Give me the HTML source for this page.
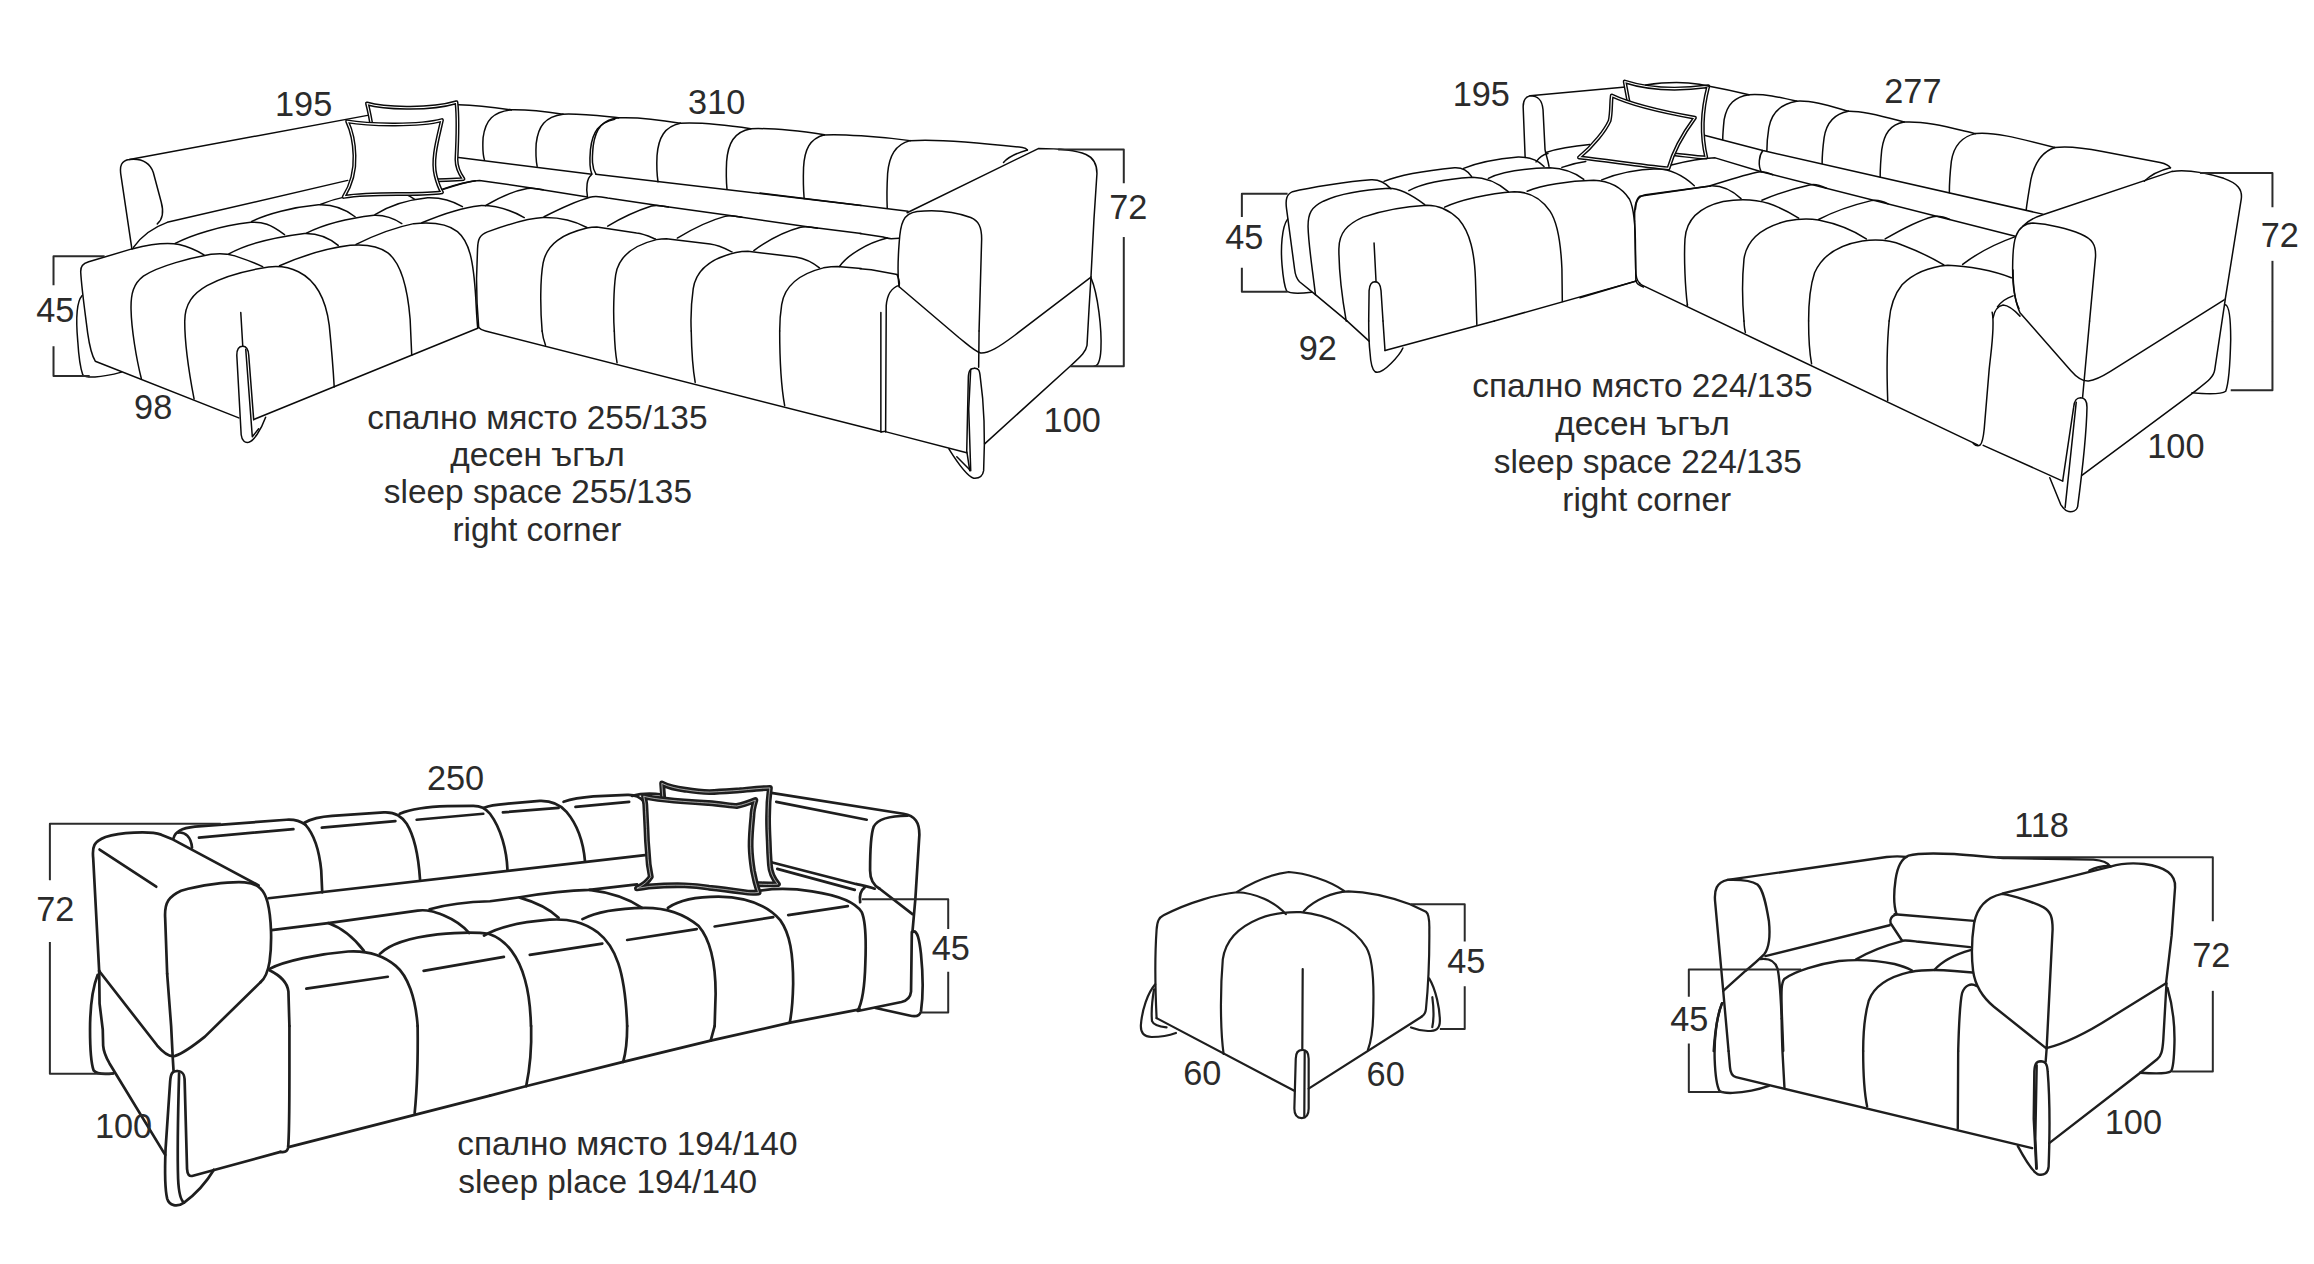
<!DOCTYPE html><html><head><meta charset="utf-8"><title>Sofa dimensions</title><style>
html,body{margin:0;padding:0;background:#fff}svg{display:block}
.l{stroke-width:1.5}.l{stroke:#0a0a0a}.l path{fill:none;stroke-linecap:round;stroke-linejoin:round;vector-effect:non-scaling-stroke}
.l path.f{fill:#fff}
.l path.d{stroke:#2b2b2b;stroke-width:2px;stroke-linecap:butt;stroke-linejoin:round}
.l path.p1{fill:#fff;stroke-width:4}.l path.p2{stroke:#fff;stroke-width:1.1}
text{font-family:"Liberation Sans",sans-serif;fill:#2b2b2b}
</style></head><body>
<svg width="2314" height="1264" viewBox="0 0 2314 1264">
<rect width="2314" height="1264" fill="#fff"/>
<g class="l" transform="translate(40 80) scale(0.198790)">
<path d="M462 848 L408 485 C398 430 410 405 450 400 L1648 178"/>
<path d="M450 400 C515 393 552 415 570 465 L610 615 C625 670 612 705 590 724"/>
<path d="M470 842 C510 785 560 745 640 716 L1548 505"/>
<path d="M462 850 C560 825 640 815 700 828 C750 840 795 862 825 880"/>
<path d="M680 822 C760 780 900 735 1060 716 C1120 712 1160 725 1230 778"/>
<path d="M950 875 C1020 835 1150 795 1330 772 C1400 770 1450 790 1500 832"/>
<path d="M1065 712 C1140 675 1270 640 1400 628 C1470 625 1530 645 1585 688"/>
<path d="M1340 770 C1420 730 1550 695 1680 680 C1740 678 1780 695 1820 722"/>
<path d="M1410 626 C1450 610 1500 595 1535 588"/>
<path d="M1685 677 C1760 630 1850 602 1950 592 C2020 590 2080 610 2125 637"/>
<path d="M1835 572 C1855 580 1870 590 1885 600"/>
<path d="M2030 550 C2090 530 2140 515 2190 507"/>
<path class="p1" d="M1645 118 C1720 140 1950 155 2095 112 C2105 200 2100 300 2095 400 C2095 440 2110 470 2130 498 C2080 505 2000 500 1900 510 L1700 510 C1690 400 1680 250 1645 118 Z"/><path class="p2" d="M1645 118 C1720 140 1950 155 2095 112 C2105 200 2100 300 2095 400 C2095 440 2110 470 2130 498 C2080 505 2000 500 1900 510 L1700 510 C1690 400 1680 250 1645 118 Z"/>
<path class="p1" d="M1545 208 C1640 225 1900 235 2022 202 C2000 300 1970 400 1990 480 C2000 520 2010 545 2022 565 C1900 585 1700 560 1528 588 C1570 520 1585 450 1582 380 C1580 300 1565 250 1545 208 Z"/><path class="p2" d="M1545 208 C1640 225 1900 235 2022 202 C2000 300 1970 400 1990 480 C2000 520 2010 545 2022 565 C1900 585 1700 560 1528 588 C1570 520 1585 450 1582 380 C1580 300 1565 250 1545 208 Z"/>
</g>
<g class="l" transform="translate(40 230) scale(0.198790)">
<path d="M462 95 L245 160 C215 170 203 182 205 215 C210 300 225 400 240 520 C250 590 260 630 278 660 L1000 945"/>
<path d="M1075 953 L2202 494"/>
<path d="M510 748 C485 650 460 500 458 400 C456 320 470 270 520 232 C600 180 760 140 860 122 C900 117 940 117 980 130 C1040 150 1090 170 1120 184"/>
<path d="M775 850 C750 720 728 560 728 460 C728 370 770 320 840 280 C930 230 1060 200 1150 186 C1200 180 1250 185 1300 210 C1400 260 1440 360 1455 480 C1465 580 1475 700 1480 790"/>
<path d="M1205 180 C1300 138 1420 95 1560 77 C1640 70 1700 78 1750 115 C1820 170 1850 300 1862 450 L1870 630"/>
<path d="M1590 72 C1680 28 1780 -12 1880 -32 C1980 -42 2050 -32 2100 8 C2160 58 2180 150 2192 340 C2196 420 2198 460 2202 492"/>
<path d="M212 330 C185 360 180 450 190 560 C195 640 205 700 215 728 C230 745 300 745 410 715"/>
<path d="M1010 415 L1020 585"/>
<path d="M1020 585 C1000 585 990 600 990 630 L1012 1030 C1016 1060 1030 1072 1050 1068 C1075 1060 1110 1010 1135 942"/>
<path d="M1020 585 C1040 585 1048 600 1050 630 L1075 955"/>
<path d="M1035 600 L1068 1040 L1100 1000"/>
<path class="d" d="M325 132 L68 132 L68 278"/>
<path class="d" d="M68 585 L68 735 L250 735"/>
</g>
<g class="l" transform="translate(400 80) scale(0.198790)">
<path d="M295 125 C380 128 470 138 560 150"/>
<path d="M560 150 C650 148 740 160 820 172"/>
<path d="M820 172 C910 168 1000 180 1100 190"/>
<path d="M1100 190 C1200 186 1310 200 1410 218"/>
<path d="M1410 218 C1520 212 1650 228 1765 245"/>
<path d="M1765 245 C1880 240 2020 258 2135 275"/>
<path d="M560 150 C470 160 430 200 418 290 C415 340 418 380 425 403"/>
<path d="M820 172 C730 185 695 230 685 320 C682 370 685 410 690 435"/>
<path d="M1100 190 C1020 200 985 240 972 330 C965 400 965 440 985 472"/>
<path d="M1080 198 C1000 215 968 260 958 350 C952 420 955 450 965 473"/>
<path d="M1410 218 C1330 235 1300 290 1293 380 C1290 440 1293 480 1298 512"/>
<path d="M1765 245 C1680 260 1650 320 1643 410 C1640 470 1642 520 1645 550"/>
<path d="M2135 275 C2060 295 2035 350 2030 440 C2028 500 2030 560 2033 596"/>
<path d="M295 390 L965 474"/>
<path d="M985 474 L2320 631"/>
<path d="M962 478 C940 492 935 545 943 588"/>
<path d="M210 550 C290 522 350 507 400 505 L660 543 L943 588"/>
<path d="M430 632 C500 590 580 557 640 546 C665 541 690 546 720 552.5"/>
<path d="M725 688 C800 650 880 612 955 590 C985 581 1010 586 1045 594 L1290 630 L1660 682 L2040 737 L2320 772"/>
<path d="M1045 735 C1120 690 1200 655 1265 634 C1290 626 1320 632 1350 638.7"/>
<path d="M1395 795 C1470 750 1560 706 1635 686 C1660 678 1690 684 1720 690.7"/>
<path d="M1780 858 C1860 800 1950 758 2015 741 C2040 733 2070 739 2100 745.7"/>
<path d="M110 718 C200 680 320 640 400 632 C480 630 560 655 625 692"/>
<path d="M396 1245 C390 1180 385 1100 385 1000 L390 850 C392 800 400 780 440 764 C520 735 640 695 720 692 C800 690 880 710 940 742"/>
<path d="M715 1263 C705 1150 705 1000 720 920 C740 820 820 775 940 745 C960 741 975 740 990 740 L1190 770 C1230 775 1260 790 1285 800"/>
<path d="M1078 1263 C1072 1180 1075 1050 1085 980 C1100 880 1180 830 1290 803 C1310 799 1325 798 1340 798 L1560 825 C1610 832 1640 850 1670 865"/>
<path d="M1465 1263 C1462 1200 1465 1120 1475 1050 C1490 950 1570 895 1690 868 C1710 864 1730 862 1750 862 L1990 890 C2050 900 2080 920 2110 945"/>
<path d="M1910 1263 C1910 1230 1912 1180 1920 1130 C1935 1030 2010 975 2130 945 C2160 940 2180 938 2200 938 L2320 948"/>
</g>
<g class="l" transform="translate(400 230) scale(0.198790)">
<path d="M396 490 C405 500 415 505 430 508 L2421 1015"/>
<path d="M715 508 C718 540 725 560 732 580"/>
<path d="M1078 508 C1080 580 1085 630 1092 668"/>
<path d="M1465 508 C1467 620 1475 710 1485 767"/>
<path d="M1910 508 C1910 650 1920 800 1935 884"/>
</g>
<g class="l" transform="translate(760 80) scale(0.198790)">
<path d="M320 277 C400 270 600 285 755 305"/>
<path d="M755 305 C900 295 1150 320 1320 340 C1335 343 1342 348 1345 352"/>
<path d="M1345 352 C1300 365 1250 385 1225 415"/>
<path d="M755 305 C680 325 650 380 642 470 C638 540 638 600 640 644"/>
<path d="M0 568 L745 660"/>
<path d="M503 772 L620 790 C640 795 650 798 660 798 L700 796"/>
<path d="M400 938 C440 880 540 820 640 795"/>
<path d="M503 950 L560 955 L690 978"/>
<path d="M700 1040 C694 1000 694 900 700 820 C706 720 720 672 790 662 C900 650 1000 670 1060 692 C1100 708 1115 740 1115 800 L1102 1263"/>
<path d="M740 668 L1400 345 C1500 345 1580 350 1640 375 C1685 395 1695 430 1695 470 L1680 700 L1665 990"/>
<path class="d" d="M1500 350 L1830 350 L1830 520"/>
<path class="d" d="M1830 790 L1830 1263"/>
</g>
<g class="l" transform="translate(760 250) scale(0.198790)">
<path d="M690 125 C695 140 705 160 700 178 C660 190 640 220 635 280 L632 915"/>
<path d="M608 315 L608 915 L632 912"/>
<path d="M700 185 L1000 440 C1050 480 1080 510 1110 518 C1150 520 1200 490 1280 430 L1660 140"/>
<path d="M1102 408 L1100 590"/>
<path d="M635 915 L1040 1020"/>
<path d="M1665 135 L1655 300 L1645 480 C1640 510 1620 530 1560 585 L1130 975"/>
<path d="M1665 140 C1700 220 1720 400 1715 500 C1712 560 1700 585 1680 585"/>
<path class="d" d="M1830 408 L1830 585 L1560 585"/>
<path d="M1080 595 C1058 595 1050 605 1048 640 L1040 1010 L1055 1110"/>
<path d="M1080 595 C1100 595 1105 605 1108 640 C1125 760 1135 900 1125 1110 C1120 1140 1100 1150 1075 1148 C1050 1140 1000 1080 950 1000"/>
<path d="M1060 600 L1050 800 L1060 1110 L990 1040"/>
</g>
<g class="l" transform="translate(1220 70) scale(0.198790)">
<path d="M1535 440 L1525 185 C1525 150 1535 135 1560 130 L2040 85"/>
<path d="M1560 130 C1600 130 1620 150 1625 200 L1635 400 C1640 430 1650 450 1655 485"/>
<path d="M1640 415 C1700 395 1780 382 1860 375"/>
<path d="M1590 462 C1605 440 1625 425 1650 420"/>
<path d="M640 1263 L480 1130 L400 1065 C385 1050 378 1030 375 1000 L335 700 C328 650 335 625 365 612 C450 590 650 560 760 552 C800 550 830 565 860 597"/>
<path d="M825 560 C900 530 1050 505 1180 492 C1220 490 1245 505 1265 535"/>
<path d="M1225 495 C1300 465 1420 445 1500 438 C1560 437 1600 455 1630 485"/>
<path d="M480 1130 C465 1000 445 880 443 790 C442 720 460 690 520 660 C620 615 760 600 850 595 C900 595 960 625 1030 677"/>
<path d="M950 607 C1020 570 1150 548 1270 540 C1340 540 1400 570 1450 612"/>
<path d="M1350 545 C1420 510 1550 495 1660 492 C1730 495 1790 520 1830 550"/>
<path d="M635 1263 C615 1150 598 1000 598 900 C598 820 640 775 720 740 C820 705 950 685 1040 680 C1100 680 1150 700 1200 750 C1260 820 1280 920 1285 1050 L1292 1280"/>
<path d="M1130 690 C1200 655 1350 620 1480 612 C1560 612 1620 650 1660 710 C1700 770 1715 880 1720 1000 L1722 1165"/>
<path d="M1545 610 C1620 580 1750 558 1880 555 C1960 558 2020 590 2060 650 C2085 700 2090 800 2090 900 L2092 1060"/>
<path d="M1720 490 C1760 475 1800 465 1840 460"/>
<path d="M1920 553 C2000 520 2100 500 2200 497 C2280 500 2340 540 2386 582"/>
<path d="M2466 583 L2140 628 C2105 636 2092 655 2090 700"/>
<path d="M2092 1060 C2095 1075 2110 1085 2130 1092"/>
<path d="M2092 1062 L1380 1263"/>
<path d="M775 870 L785 1065"/>
<path d="M780 1065 C760 1065 752 1080 750 1110 L748 1263"/>
<path d="M780 1065 C800 1065 808 1080 810 1110 L820 1263"/>
<path d="M340 750 C310 790 305 900 312 980 C318 1050 325 1090 335 1112 C350 1125 400 1125 460 1118"/>
<path class="d" d="M340 622 L110 622 L110 740"/>
<path class="d" d="M110 995 L110 1115 L340 1115"/>
<path class="p1" d="M2036 58 C2150 95 2280 105 2456 82 C2425 200 2420 330 2446 440 C2400 440 2340 430 2291 425 L2100 400 Z"/><path class="p2" d="M2036 58 C2150 95 2280 105 2456 82 C2425 200 2420 330 2446 440 C2400 440 2340 430 2291 425 L2100 400 Z"/>
<path class="p1" d="M1971 128 C2080 180 2250 215 2389 240 C2330 320 2280 410 2256 495 C2100 480 1950 455 1806 440 C1880 380 1940 300 1960 255 C1970 210 1965 170 1971 128 Z"/><path class="p2" d="M1971 128 C2080 180 2250 215 2389 240 C2330 320 2280 410 2256 495 C2100 480 1950 455 1806 440 C1880 380 1940 300 1960 255 C1970 210 1965 170 1971 128 Z"/>
</g>
<g class="l" transform="translate(1220 270) scale(0.198790)">
<path d="M640 257 L750 358"/>
<path d="M748 257 C748 300 750 380 755 420 C758 470 765 500 780 512 C800 522 830 500 860 470 C890 440 910 415 920 392"/>
<path d="M820 257 L830 405"/>
<path d="M830 405 L1380 257"/>
</g>
<g class="l" transform="translate(1580 70) scale(0.198790)">
<path d="M330 75 C420 62 520 58 600 72 L650 82"/>
<path d="M650 82 C720 95 790 110 850 124"/>
<path d="M850 124 C930 118 1010 138 1090 157"/>
<path d="M1090 157 C1170 152 1270 185 1350 207"/>
<path d="M1350 207 C1440 205 1550 240 1630 262"/>
<path d="M1630 262 C1740 255 1880 295 1990 320"/>
<path d="M850 124 C780 135 740 170 725 250 C720 300 718 330 718 350"/>
<path d="M1090 157 C1010 170 965 210 950 290 C942 340 940 380 940 408"/>
<path d="M1350 207 C1280 220 1240 260 1228 340 C1220 400 1218 440 1218 470"/>
<path d="M1630 262 C1560 275 1530 320 1518 400 C1512 460 1510 510 1510 538"/>
<path d="M1990 320 C1920 335 1880 380 1868 460 C1860 530 1858 580 1858 618"/>
<path d="M630 330 L920 405 L2328 725"/>
<path d="M920 405 C900 430 895 480 912 512"/>
<path d="M460 478 C540 458 620 445 680 442 L912 512 L2190 836"/>
<path d="M655 582 C740 555 830 528 890 514 C915 508 940 514 970 526.7"/>
<path d="M915 655 C1000 620 1090 592 1155 578 C1180 572 1210 580 1240 594.9"/>
<path d="M1200 752 C1280 710 1390 675 1465 657 C1490 651 1520 658 1550 673.2"/>
<path d="M1535 850 C1620 800 1710 755 1775 738 C1800 731 1830 738 1860 751.6"/>
<path d="M1925 978 C2000 920 2100 870 2190 838"/>
<path d="M275 760 C272 700 282 650 300 635 L655 583 C720 580 770 610 810 647"/>
<path d="M275 760 L280 1000 C280 1040 285 1060 300 1072"/>
<path d="M540 1180 C530 1100 522 950 528 850 C535 750 600 690 720 662 C800 648 880 650 950 672 C1010 692 1060 720 1100 745"/>
<path d="M825 1263 C815 1150 815 1050 825 950 C840 850 920 790 1040 760 C1100 748 1160 748 1200 755 C1300 775 1380 810 1440 850"/>
<path d="M1150 1263 C1150 1150 1160 1080 1180 1020 C1220 930 1300 880 1420 860 C1500 850 1560 855 1620 880 C1700 910 1770 945 1830 980"/>
<path d="M1555 1263 C1560 1200 1580 1130 1620 1080 C1680 1020 1760 990 1850 982 C1950 985 2080 1010 2170 1045"/>
</g>
<g class="l" transform="translate(1580 270) scale(0.198790)">
<path d="M300 66 C305 72 308 74 312 76 L2000 880"/>
<path d="M283 55 L0 140"/>
<path d="M540 174 L540 180"/>
<path d="M825 257 C826 280 828 300 832 314"/>
<path d="M1150 257 C1150 330 1155 420 1165 472"/>
<path d="M1555 257 C1548 330 1542 500 1548 657"/>
</g>
<g class="l" transform="translate(1854 70) scale(0.198790)">
<path d="M612 320 C700 312 800 335 1010 390"/>
<path d="M1010 390 C950 410 910 460 890 550 C878 620 870 670 866 705"/>
<path d="M1010 390 C1080 380 1150 390 1250 410 L1540 465 C1570 472 1585 480 1592 492"/>
<path d="M1592 492 C1540 505 1490 530 1460 560"/>
<path d="M830 1200 C805 1150 798 1080 798 1000 C798 920 805 860 815 835 C830 795 860 772 900 770 C980 775 1080 800 1140 825 C1200 850 1218 880 1215 940 L1185 1263"/>
<path d="M850 785 C880 755 910 740 950 728 L1600 510"/>
<path d="M1600 510 C1680 500 1780 520 1860 545 C1930 570 1955 600 1948 650 L1868 1150"/>
<path class="d" d="M1740 518 L2105 518 L2105 690"/>
<path class="d" d="M2105 960 L2105 1263"/>
</g>
<g class="l" transform="translate(1854 270) scale(0.198790)">
<path d="M695 212 C710 280 690 400 680 500 L655 800 C650 850 645 870 635 880 C625 888 612 884 600 872"/>
<path d="M700 240 C705 210 720 182 750 176 C780 178 810 205 835 232"/>
<path d="M800 130 C770 140 740 160 722 185"/>
<path d="M800 0 C800 80 805 150 835 215 L1090 505 C1120 540 1150 560 1180 558 C1210 555 1250 535 1290 510 L1862 150"/>
<path d="M1185 257 L1150 640"/>
<path d="M1140 643 C1115 643 1108 660 1105 690 L1050 1060"/>
<path d="M1140 643 C1165 643 1172 660 1172 690 C1170 800 1150 1000 1125 1190 C1120 1210 1100 1218 1080 1215 C1060 1212 1050 1195 1040 1180 L985 1045"/>
<path d="M1118 665 L1062 1195"/>
<path d="M650 882 L1050 1062"/>
<path d="M1148 1032 L1700 622 C1780 560 1810 540 1815 500 L1868 145"/>
<path d="M1868 175 C1890 180 1895 250 1895 350 C1892 480 1885 570 1870 610 C1850 625 1780 625 1700 618"/>
<path class="d" d="M2105 257 L2105 605 L1895 605"/>
</g>
<g class="l" style="stroke-width:2.7;stroke:#1e1e1e" transform="translate(30 775) scale(0.198790)">
<path d="M348 985 L318 420 C312 360 320 335 380 312 C450 290 600 280 660 300 L720 325 L1150 555"/>
<path d="M690 1000 L680 720 C675 640 700 610 760 582 C850 555 1000 535 1080 540 C1150 545 1180 580 1195 640 C1215 720 1218 850 1205 940 C1195 1000 1180 1025 1160 1042"/>
<path d="M350 375 L635 562"/>
<path d="M722 318 C730 285 760 268 830 260 L1290 225 C1340 222 1365 235 1385 250"/>
<path d="M745 290 C780 285 810 310 815 365"/>
<path d="M1385 250 C1430 300 1455 380 1465 480 L1470 590"/>
<path d="M850 315 L1325 272"/>
<path d="M1380 240 C1420 218 1460 210 1520 206 L1780 188 C1840 185 1870 210 1895 245 C1935 310 1955 420 1962 525"/>
<path d="M1468 265 L1838 232"/>
<path d="M1860 195 C1920 170 2000 160 2100 157 L2230 155 C2270 155 2295 170 2314 195 C2370 270 2398 380 2402 478"/>
<path d="M1945 225 L2280 195"/>
<path d="M1200 620 L3094 403"/>
<path d="M1215 780 L1500 745 L1950 682 C2000 675 2040 690 2080 705 C2140 730 2180 760 2210 795"/>
<path d="M1500 745 C1570 770 1630 820 1680 885"/>
<path d="M2010 675 C2100 650 2200 638 2314 635 L2464 615"/>
<path d="M1205 975 C1280 935 1450 900 1600 888 C1700 882 1780 910 1840 960 C1900 1010 1940 1120 1950 1263"/>
<path d="M1390 1075 L1800 1015"/>
<path d="M1205 982 C1260 1010 1295 1040 1300 1090 L1305 1263"/>
<path d="M1760 900 C1810 850 1900 820 2050 802 C2150 792 2250 790 2310 800 C2400 830 2460 920 2490 1030 C2510 1100 2518 1180 2520 1263"/>
<path d="M1980 985 L2384 915"/>
<path class="d" d="M960 245 L100 245 L100 530"/>
<path class="d" d="M100 840 L100 1263"/>
</g>
<g class="l" style="stroke-width:2.7;stroke:#1e1e1e" transform="translate(30 970) scale(0.198790)">
<path d="M340 25 C315 90 302 200 302 300 C302 400 308 470 320 505 C335 525 380 525 420 520"/>
<path d="M348 5 L640 380 C670 415 700 440 730 432 C780 415 830 375 880 335 L1160 61"/>
<path d="M690 19 L710 282 L718 440 L722 505"/>
<path d="M348 4 L350 169 L366 300 L368 380 C370 410 380 435 400 470 L680 930"/>
<path d="M740 508 C715 508 708 520 705 560 L682 900 C678 1000 678 1100 690 1150 C700 1185 740 1195 775 1170 C830 1130 880 1080 925 1005"/>
<path d="M740 508 C770 508 778 525 778 560 L790 1000 C792 1030 800 1040 820 1035 L1260 915"/>
<path d="M750 520 C745 700 740 900 745 1050 C748 1120 760 1160 775 1170"/>
<path d="M1305 282 L1305 500 C1305 700 1303 850 1298 895 C1295 915 1280 918 1260 915"/>
<path d="M1305 890 L2314 632"/>
<path d="M1950 282 C1952 450 1945 620 1935 720"/>
<path class="d" d="M100 282 L100 522 L420 522"/>
</g>
<g class="l" style="stroke-width:2.7;stroke:#1e1e1e" transform="translate(490 970) scale(0.198790)">
<path d="M0 632 L180 585 L670 462 L1110 355 L1510 265 L1860 198"/>
<path d="M207 282 C210 400 200 500 182 585"/>
<path d="M690 282 C690 350 682 420 670 462"/>
<path d="M1130 282 L1110 355"/>
</g>
<g class="l" style="stroke-width:2.7;stroke:#1e1e1e" transform="translate(490 775) scale(0.198790)">
<path d="M-30 165 C0 152 40 148 80 145 L250 130 C310 128 350 145 385 185 C440 250 470 340 478 435"/>
<path d="M65 188 L345 165"/>
<path d="M370 135 C420 118 470 112 520 108 L690 100 C730 98 755 110 775 135"/>
<path d="M430 160 L700 135"/>
<path d="M715 105 C760 92 820 92 865 98"/>
<path d="M150 615 C300 590 420 580 500 578 L740 550"/>
<path d="M150 617 C230 640 300 675 345 718"/>
<path d="M500 578 C600 590 700 625 765 668"/>
<path d="M1415 90 L2080 195 C2140 205 2160 240 2160 300 L2140 620 L2125 790"/>
<path d="M1440 135 L1895 225"/>
<path d="M2100 205 C2020 205 1950 220 1930 260 C1915 300 1912 400 1912 480 C1912 530 1930 555 1960 572"/>
<path d="M1960 572 L2125 700"/>
<path d="M1420 440 L1840 548 C1870 555 1900 560 1935 572"/>
<path d="M1445 472 L1835 578"/>
<path d="M1885 565 C1865 580 1858 610 1862 640"/>
<path d="M-30 808 C30 770 150 740 300 728 C400 722 470 740 540 790 C630 860 680 980 690 1263"/>
<path d="M200 905 L565 848"/>
<path d="M465 725 C530 690 650 670 780 668 C900 668 980 700 1050 760 C1110 830 1135 950 1135 1100 L1130 1263"/>
<path d="M690 830 L1040 775"/>
<path d="M895 668 C950 630 1050 612 1150 612 C1300 615 1400 660 1460 730 C1510 800 1525 900 1525 1050 C1523 1150 1515 1210 1508 1245"/>
<path d="M1130 762 L1425 715"/>
<path d="M1340 585 C1420 570 1520 570 1620 585 C1750 605 1840 640 1870 690 C1892 740 1892 850 1888 950 C1885 1060 1875 1140 1850 1185"/>
<path d="M1500 705 L1800 660"/>
<path d="M1850 1187 L2070 1142 C2100 1135 2115 1120 2118 1090 L2122 790"/>
<path d="M2128 788 C2150 780 2160 830 2168 900 C2178 1000 2178 1120 2168 1190 C2160 1215 2140 1218 2110 1210 L1940 1172"/>
<path class="d" d="M1870 625 L2305 625 L2305 775"/>
<path class="d" d="M2305 990 L2305 1195 L2170 1195"/>
<path class="p1" style="stroke-width:5.90" d="M866 43 C900 60 950 70 982 74 C1030 82 1070 86 1104 86 C1160 84 1210 80 1256 77 C1310 72 1360 66 1408 65 C1402 110 1399 160 1399 208 C1398 250 1400 290 1402 330 C1403 370 1405 410 1408 451 C1410 490 1425 520 1448 549 C1410 552 1380 550 1347 549 L1200 545 L900 520 Z"/><path class="p2" style="stroke-width:0.6" d="M866 43 C900 60 950 70 982 74 C1030 82 1070 86 1104 86 C1160 84 1210 80 1256 77 C1310 72 1360 66 1408 65 C1402 110 1399 160 1399 208 C1398 250 1400 290 1402 330 C1403 370 1405 410 1408 451 C1410 490 1425 520 1448 549 C1410 552 1380 550 1347 549 L1200 545 L900 520 Z"/>
<path class="p1" style="stroke-width:5.90" d="M775 107 C830 125 1000 135 1100 141 C1160 145 1210 155 1241 156 C1275 150 1305 138 1335 126 C1325 160 1320 190 1320 208 C1315 260 1310 310 1311 360 C1312 410 1318 450 1323 482 C1330 520 1340 560 1351 591 C1320 595 1295 592 1271 588 C1200 578 1150 572 1101 567 C1060 560 1020 556 979 555 C920 553 860 556 797 561 C775 565 755 568 739 570 C770 555 795 535 809 512 C800 470 795 430 794 390 C790 350 788 310 787 269 C785 230 783 190 781 147 Z"/><path class="p2" style="stroke-width:0.6" d="M775 107 C830 125 1000 135 1100 141 C1160 145 1210 155 1241 156 C1275 150 1305 138 1335 126 C1325 160 1320 190 1320 208 C1315 260 1310 310 1311 360 C1312 410 1318 450 1323 482 C1330 520 1340 560 1351 591 C1320 595 1295 592 1271 588 C1200 578 1150 572 1101 567 C1060 560 1020 556 979 555 C920 553 860 556 797 561 C775 565 755 568 739 570 C770 555 795 535 809 512 C800 470 795 430 794 390 C790 350 788 310 787 269 C785 230 783 190 781 147 Z"/>
</g>
<g class="l" style="stroke-width:2.2;stroke:#1e1e1e" transform="translate(1090 870) scale(0.198790)">
<path d="M335 745 C328 600 328 400 335 300 C338 260 345 240 370 228 C500 160 650 120 740 112 C830 115 930 160 985 222"/>
<path d="M740 110 C820 60 920 20 1000 10 C1080 15 1200 50 1278 105"/>
<path d="M1075 207 C1130 150 1220 112 1300 108 C1400 110 1520 140 1610 172 L1690 210 C1705 220 1708 250 1707 300 C1708 450 1700 600 1690 700 C1688 720 1680 730 1668 738"/>
<path d="M672 925 C655 800 655 600 668 450 C680 360 740 290 850 245 C920 218 1000 210 1060 212 C1200 225 1330 290 1390 390 C1425 450 1428 600 1425 700 C1425 800 1415 860 1398 905"/>
<path d="M335 745 L1030 1112"/>
<path d="M1100 1100 L1668 738"/>
<path d="M1070 498 L1068 905"/>
<path d="M1068 905 C1045 905 1035 920 1035 950 L1028 1200 C1028 1235 1045 1248 1065 1248 C1090 1248 1100 1230 1100 1200 L1100 950 C1100 920 1090 905 1068 905"/>
<path d="M1080 915 L1078 1240"/>
<path d="M328 575 C290 620 262 700 256 780 C254 820 270 838 310 840 C360 840 400 832 432 820"/>
<path d="M322 600 C312 660 308 720 312 760 C320 780 350 788 385 792"/>
<path d="M1706 545 C1740 600 1760 700 1760 760 C1760 800 1740 810 1700 810 C1670 808 1640 802 1615 792"/>
<path d="M1722 640 C1730 700 1730 750 1722 790"/>
<path class="d" d="M1615 172 L1885 172 L1885 360"/>
<path class="d" d="M1885 585 L1885 800 L1760 800"/>
</g>
<g class="l" style="stroke-width:2.4;stroke:#1e1e1e" transform="translate(1660 800) scale(0.198790)">
<path d="M345 1263 L318 960 L278 520 C270 450 285 415 340 402 L1140 287 C1180 282 1210 282 1240 287"/>
<path d="M340 402 C400 400 460 405 490 425 C520 450 535 530 548 610 C555 680 550 740 525 775 C500 800 460 835 430 860 L318 960"/>
<path d="M530 785 L1155 630"/>
<path d="M1190 575 C1178 540 1175 470 1185 400 C1195 330 1215 295 1250 280 C1300 265 1400 268 1480 272 C1600 280 1680 290 1750 292 L2180 300 C2230 305 2255 318 2262 332"/>
<path d="M1180 575 L1580 608"/>
<path d="M1185 577 C1165 585 1155 600 1160 620 L1218 708"/>
<path d="M1218 708 C1240 705 1260 708 1290 712 L1560 740"/>
<path d="M2160 355 C2190 338 2225 332 2262 332"/>
<path d="M1725 470 L2266 335"/>
<path d="M1940 1247 L1680 1040 C1620 990 1585 930 1575 860 C1565 780 1568 700 1580 620 C1595 540 1640 490 1720 472 C1780 480 1880 515 1930 540 C1965 560 1975 590 1975 650 L1945 1250"/>
<path d="M620 1263 L612 1050 C610 960 610 920 625 900 C680 860 800 825 900 810 C1000 800 1100 808 1180 825 C1220 835 1245 845 1268 858"/>
<path d="M1022 1263 C1022 1180 1030 1080 1050 1010 C1075 940 1150 890 1260 865 C1330 852 1420 855 1480 860 L1572 868"/>
<path d="M985 802 C1050 765 1140 730 1218 710"/>
<path d="M1380 855 C1420 810 1490 775 1562 755"/>
<path d="M505 800 C550 795 580 810 592 850 C602 900 608 1000 612 1100"/>
<path d="M312 1022 C290 1080 275 1180 270 1263"/>
<path d="M1592 935 C1565 920 1535 930 1520 970 C1508 1020 1503 1150 1500 1263"/>
<path class="d" d="M710 853 L145 853 L145 990"/>
<path class="d" d="M145 1225 L145 1263"/>
</g>
<g class="l" style="stroke-width:2.4;stroke:#1e1e1e" transform="translate(1854 800) scale(0.198790)">
<path d="M1290 335 C1340 320 1400 315 1460 322 C1560 335 1620 370 1615 440 L1598 680 L1570 920"/>
<path d="M1570 922 L1290 1095 C1180 1165 1060 1225 968 1248"/>
<path class="d" d="M720 288 L1805 288 L1805 610"/>
<path class="d" d="M1805 960 L1805 1263"/>
</g>
<g class="l" style="stroke-width:2.4;stroke:#1e1e1e" transform="translate(1660 940) scale(0.198790)">
<path d="M345 559 L352 640 C354 670 362 685 382 690 L1872 1047"/>
<path d="M312 318 C285 380 272 500 275 600 C278 680 288 740 300 760 C320 775 400 770 460 758 C500 750 525 742 548 734"/>
<path d="M612 396 C612 450 614 500 616 560 L626 742"/>
<path d="M1022 559 C1022 680 1030 780 1042 838"/>
<path d="M1500 559 L1498 948"/>
<path d="M1945 546 L1940 612"/>
<path d="M1915 610 C1892 610 1885 625 1883 660 L1880 900 L1893 1150"/>
<path d="M1915 610 C1940 610 1948 625 1950 660 C1960 780 1962 950 1955 1140 C1952 1175 1930 1185 1905 1180 C1880 1172 1850 1130 1800 1037"/>
<path d="M1895 630 L1888 1000 L1895 1150"/>
<path d="M1958 1022 L2416 668"/>
<path class="d" d="M145 559 L145 765 L320 765"/>
</g>
<g class="l" style="stroke-width:2.4;stroke:#1e1e1e" transform="translate(1854 940) scale(0.198790)">
<path d="M1572 218 L1556 500 C1552 560 1545 585 1525 600 L1440 668"/>
<path d="M1577 241 C1600 320 1614 430 1612 520 C1610 600 1605 645 1595 660 C1580 672 1500 672 1440 668"/>
<path class="d" d="M1805 559 L1805 662 L1600 662"/>
</g>
<text x="275.0" y="115.8" font-size="34.3">195</text>
<text x="688.1" y="113.6" font-size="34.3">310</text>
<text x="36.3" y="322.4" font-size="34.3">45</text>
<text x="134.1" y="418.8" font-size="34.3">98</text>
<text x="1109.2" y="219.2" font-size="34.3">72</text>
<text x="1043.6" y="431.9" font-size="34.3">100</text>
<text x="1452.7" y="105.8" font-size="34.3">195</text>
<text x="1225.3" y="248.9" font-size="34.3">45</text>
<text x="1884.3" y="102.8" font-size="34.3">277</text>
<text x="2260.8" y="247.0" font-size="34.3">72</text>
<text x="1298.8" y="359.5" font-size="34.3">92</text>
<text x="2147.3" y="457.9" font-size="34.3">100</text>
<text x="36.3" y="921.1" font-size="34.3">72</text>
<text x="426.9" y="789.9" font-size="34.3">250</text>
<text x="931.8" y="959.5" font-size="34.3">45</text>
<text x="94.9" y="1138.0" font-size="34.3">100</text>
<text x="1447.2" y="973.4" font-size="34.3">45</text>
<text x="1183.3" y="1084.7" font-size="34.3">60</text>
<text x="1366.6" y="1085.7" font-size="34.3">60</text>
<text x="2014.2" y="836.8" font-size="34.3">118</text>
<text x="1670.3" y="1030.6" font-size="34.3">45</text>
<text x="2192.3" y="967.4" font-size="34.3">72</text>
<text x="2104.8" y="1133.8" font-size="34.3">100</text>
<text x="367.2" y="428.6" font-size="33.4">спално място 255/135</text>
<text x="450.3" y="466.0" font-size="33.4">десен ъгъл</text>
<text x="383.8" y="503.3" font-size="33.4">sleep space 255/135</text>
<text x="452.4" y="540.5" font-size="33.4">right corner</text>
<text x="1472.2" y="396.5" font-size="33.4">спално място 224/135</text>
<text x="1555.3" y="434.7" font-size="33.4">десен ъгъл</text>
<text x="1493.7" y="473.0" font-size="33.4">sleep space 224/135</text>
<text x="1562.3" y="511.2" font-size="33.4">right corner</text>
<text x="457.2" y="1155.3" font-size="33.4">спално място 194/140</text>
<text x="458.2" y="1193.1" font-size="33.4">sleep place 194/140</text>
</svg></body></html>
